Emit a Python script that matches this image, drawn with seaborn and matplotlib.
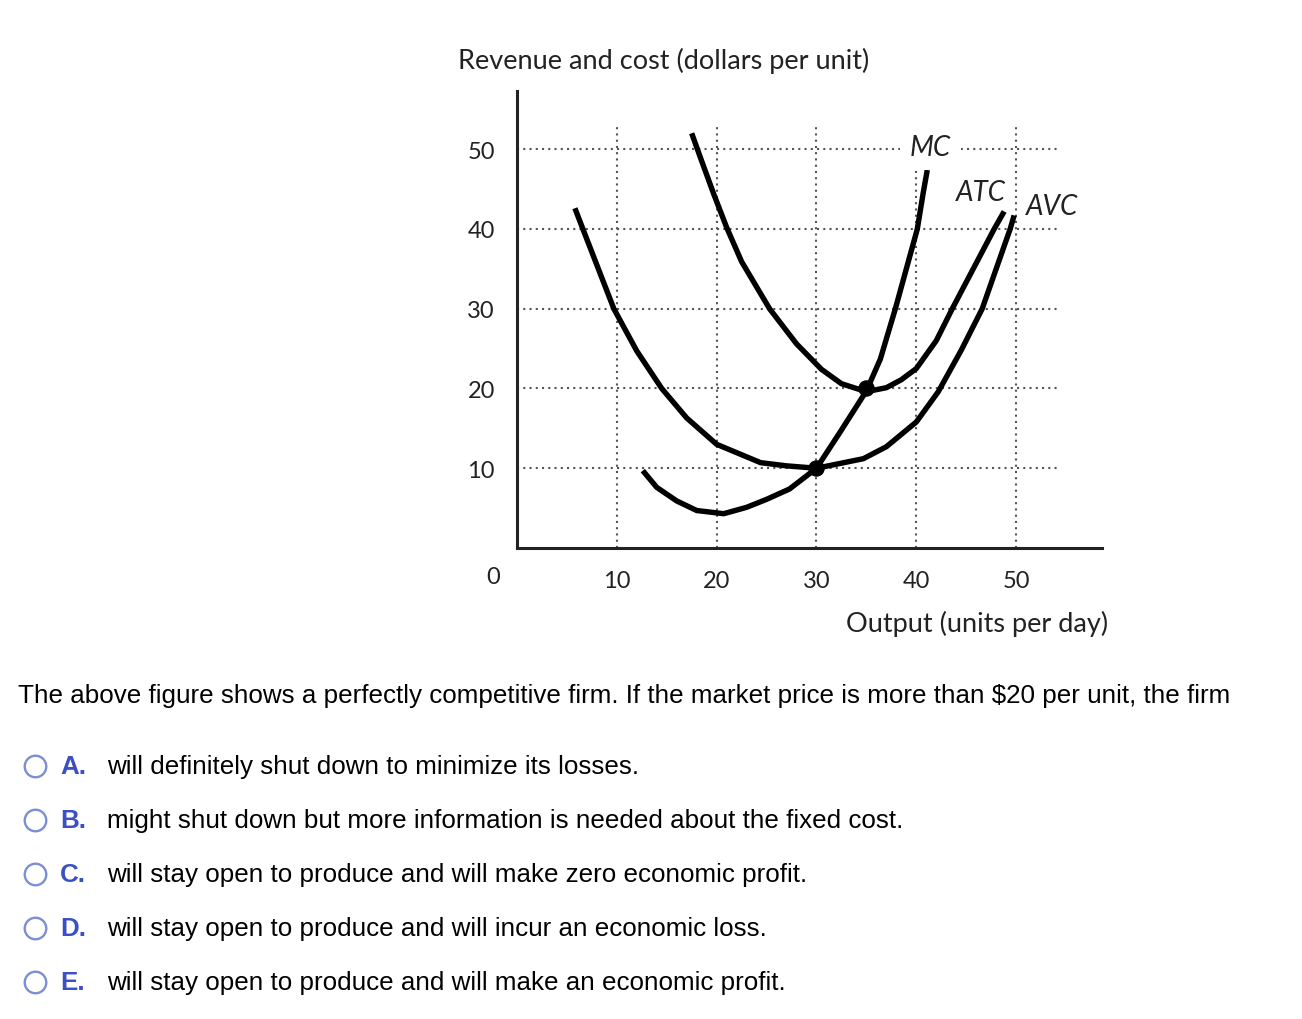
import matplotlib
matplotlib.use("Agg")
import matplotlib.pyplot as plt
import seaborn as sns
import pandas as pd

# ---- data ----
mc_x = [12.6, 14.0, 16.0, 18.0, 20.7, 23.0, 25.0, 27.3, 30.0, 32.4, 35.0, 36.4, 37.9, 39.0, 40.1, 40.7, 41.1]
mc_y = [9.7, 7.6, 5.9, 4.7, 4.3, 5.1, 6.1, 7.4, 10.0, 14.6, 19.7, 23.7, 30.0, 35.0, 40.0, 44.6, 47.4]
atc_x = [17.5, 18.3, 19.7, 21.0, 22.5, 25.3, 28.0, 30.5, 32.5, 35.0, 37.0, 38.5, 40.0, 42.0, 43.6, 47.8, 48.8]
atc_y = [52.0, 49.2, 44.4, 40.2, 35.9, 30.0, 25.6, 22.4, 20.6, 19.6, 20.1, 21.1, 22.5, 26.0, 30.0, 40.0, 42.2]
avc_x = [5.8, 6.6, 9.7, 12.0, 14.5, 17.0, 20.0, 24.4, 27.0, 30.0, 34.7, 37.0, 40.0, 42.2, 44.5, 46.6, 49.4, 49.8]
avc_y = [42.6, 40.0, 30.0, 24.7, 20.0, 16.3, 13.0, 10.7, 10.3, 10.0, 11.2, 12.7, 15.8, 19.6, 24.8, 30.0, 40.0, 41.7]
dot_x = [30, 35]
dot_y = [10, 20]
x_ticks = [10, 20, 30, 40, 50]
y_ticks = [10, 20, 30, 40, 50]
curve_labels = ["MC", "ATC", "AVC"]
label_pos_x = [41.4, 46.5, 53.6]
label_pos_y = [50.3, 44.6, 42.9]

title_text = "Revenue and cost (dollars per unit)"
xlabel_text = "Output (units per day)"
question = ("The above figure shows a perfectly competitive firm. If the market price is "
            "more than $20 per unit, the firm")
option_letters = ["A.", "B.", "C.", "D.", "E."]
option_texts = [
    "will definitely shut down to minimize its losses.",
    "might shut down but more information is needed about the fixed cost.",
    "will stay open to produce and will make zero economic profit.",
    "will stay open to produce and will incur an economic loss.",
    "will stay open to produce and will make an economic profit.",
]

sns.set_style("white")
plt.rcParams["font.family"] = ["Lato", "DejaVu Sans"]

W, H = 1302, 1020
fig = plt.figure(figsize=(W / 100, H / 100), dpi=100)
ax = fig.add_axes([517 / W, 1 - 549 / H, 585 / W, 457 / H])
ax.set_xlim(0, 58.6)
ax.set_ylim(0, 57.3)

# dotted guide grid
grid_kw = dict(colors="#555555", linewidth=1.5, linestyles=(0, (1, 2.0)), zorder=1)
ax.hlines(y_ticks, 0, 54.1, **grid_kw)
ax.vlines(x_ticks, 0, 53.0, **grid_kw)

df = pd.concat([
    pd.DataFrame({"x": mc_x, "y": mc_y, "curve": "MC"}),
    pd.DataFrame({"x": atc_x, "y": atc_y, "curve": "ATC"}),
    pd.DataFrame({"x": avc_x, "y": avc_y, "curve": "AVC"}),
])
for name, sub in df.groupby("curve"):
    sns.lineplot(data=sub, x="x", y="y", sort=False, estimator=None, color="black",
                 linewidth=3.9, solid_capstyle="butt", solid_joinstyle="round", ax=ax, zorder=3)
sns.scatterplot(x=dot_x, y=dot_y, s=120, color="black", edgecolor="black", ax=ax, zorder=5)

for lab, lx, ly in zip(curve_labels, label_pos_x, label_pos_y):
    bb = dict(boxstyle="square,pad=0.35", fc="white", ec="none") if lab == "MC" else None
    ax.text(lx, ly, lab, fontsize=20, style="italic", ha="center", va="center",
            color="#222222", bbox=bb, zorder=4)

ax.set_xticks(x_ticks)
ax.set_yticks(y_ticks)
ax.set_xticklabels([str(v) for v in x_ticks])
ax.set_yticklabels([str(v) for v in y_ticks])
ax.tick_params(axis="both", direction="out", length=9, width=1.5, color="#222222",
               labelsize=17, labelcolor="#222222")
ax.tick_params(axis="x", pad=7)
ax.tick_params(axis="y", pad=7)
ax.set_xlabel("")
ax.set_ylabel("")
for s in ["top", "right"]:
    ax.spines[s].set_visible(False)
for s in ["left", "bottom"]:
    ax.spines[s].set_linewidth(2.2)
    ax.spines[s].set_color("#222222")
ax.text(-2.4, -3.6, "0", fontsize=17, ha="center", va="center", color="#222222", clip_on=False)

fig.text(458 / W, 1 - 61 / H, title_text, fontsize=19.5, ha="left", va="center", color="#222222")
fig.text(1108 / W, 1 - 624 / H, xlabel_text, fontsize=19.5, ha="right", va="center", color="#222222")

# question block
qfont = ["Liberation Sans", "DejaVu Sans"]
fig.text(18 / W, 1 - 696 / H, question, fontsize=18.7, family=qfont, ha="left", va="center",
         color="black")
ys = [767, 821, 875, 929, 983]
for letter, txt, yy in zip(option_letters, option_texts, ys):
    fy = 1 - yy / H
    fig.add_artist(plt.Line2D([35 / W], [fy], marker="o", markersize=15.5, markerfacecolor="white",
                              markeredgecolor="#7c8ed6", markeredgewidth=1.7,
                              transform=fig.transFigure))
    fig.text(60 / W, fy, letter, fontsize=18.7, family=qfont, weight="bold", color="#3b50c4",
             ha="left", va="center")
    fig.text(107 / W, fy, txt, fontsize=18.7, family=qfont, color="black", ha="left", va="center")

fig.savefig("out.png", dpi=100, facecolor="white")
